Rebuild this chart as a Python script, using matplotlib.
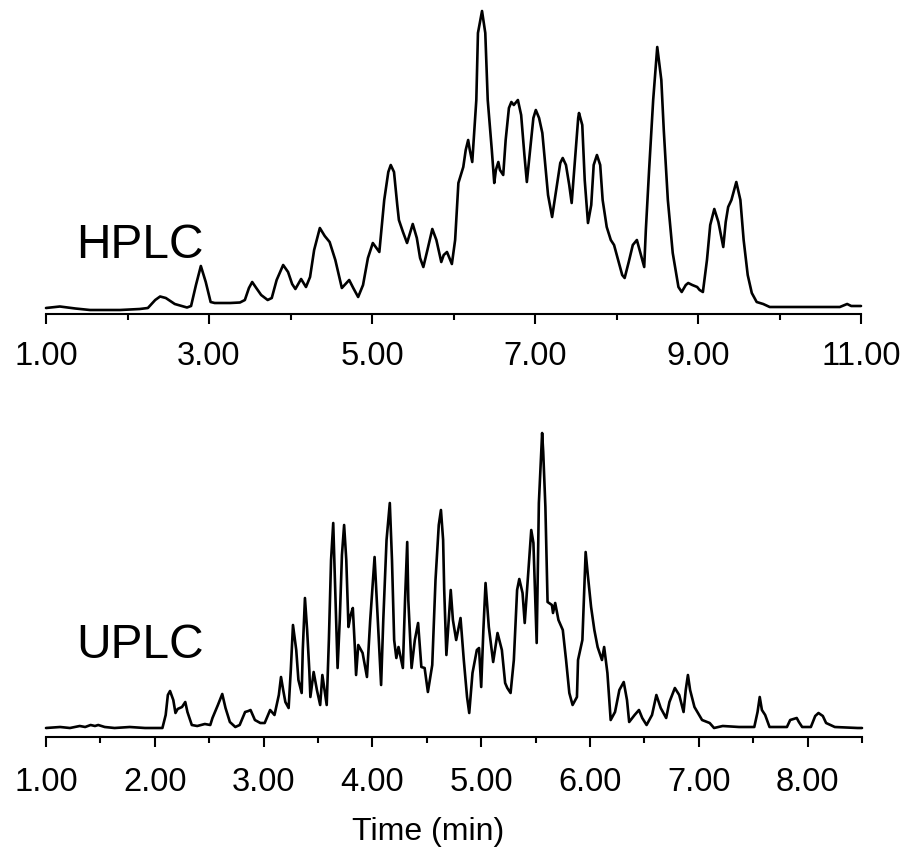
import matplotlib
matplotlib.use("Agg")
import matplotlib.pyplot as plt
from matplotlib.ticker import FixedLocator, FormatStrFormatter

plt.rcParams["font.family"] = ["Liberation Sans", "DejaVu Sans"]

# HPLC trace (time in min, detector response in arbitrary units)
hplc_time = [
    1.00, 1.17, 1.36, 1.54, 1.91, 2.15, 2.25, 2.34, 2.40, 2.47,
    2.58, 2.73, 2.78, 2.84, 2.90, 2.96, 3.02, 3.07, 3.26, 3.38,
    3.44, 3.49, 3.53, 3.58, 3.64, 3.72, 3.77, 3.83, 3.91, 3.97,
    4.02, 4.06, 4.13, 4.19, 4.24, 4.29, 4.36, 4.42, 4.48, 4.55,
    4.63, 4.72, 4.77, 4.83, 4.89, 4.95, 5.01, 5.09, 5.15, 5.20,
    5.23, 5.27, 5.31, 5.33, 5.38, 5.43, 5.47, 5.50, 5.55, 5.59,
    5.63, 5.68, 5.74, 5.79, 5.85, 5.88, 5.92, 5.96, 5.98, 6.02,
    6.06, 6.12, 6.15, 6.18, 6.20, 6.23, 6.28, 6.30, 6.35, 6.39,
    6.42, 6.47, 6.50, 6.52, 6.55, 6.57, 6.61, 6.64, 6.68, 6.71,
    6.74, 6.79, 6.83, 6.87, 6.90, 6.94, 6.98, 7.01, 7.05, 7.09,
    7.12, 7.16, 7.21, 7.26, 7.31, 7.34, 7.38, 7.42, 7.45, 7.49,
    7.53, 7.54, 7.58, 7.61, 7.65, 7.69, 7.72, 7.76, 7.80, 7.83,
    7.88, 7.93, 7.97, 8.02, 8.07, 8.10, 8.15, 8.20, 8.25, 8.30,
    8.34, 8.36, 8.40, 8.45, 8.50, 8.55, 8.58, 8.63, 8.69, 8.76,
    8.80, 8.85, 8.88, 8.93, 8.99, 9.02, 9.06, 9.11, 9.15, 9.20,
    9.25, 9.31, 9.34, 9.37, 9.41, 9.47, 9.52, 9.56, 9.61, 9.66,
    9.72, 9.80, 9.88, 10.13, 10.50, 10.74, 10.80, 10.83, 10.88, 11.00,
]
hplc_signal = [
    6, 7.5, 5.5, 4, 4, 5, 6, 14, 17.5, 16,
    10, 6.5, 8, 29, 48, 32, 12, 11, 11, 11.5,
    14, 26, 32, 26, 19, 14, 16, 34, 49, 42,
    30, 25, 35, 27, 37, 64, 86, 78, 72, 54,
    26, 34, 26, 17, 29, 56, 71, 62, 114, 142,
    149, 142, 109, 94, 82, 71, 82, 90, 76, 56,
    47, 64, 85, 74, 52, 59, 62, 54, 50, 74,
    131, 147, 164, 174, 164, 152, 214, 281, 303, 281,
    214, 164, 131, 144, 152, 144, 139, 174, 206, 212,
    209, 214, 199, 159, 132, 164, 196, 204, 196, 181,
    154, 119, 97, 124, 151, 156, 149, 129, 111, 154,
    196, 201, 189, 134, 91, 109, 149, 159, 149, 114,
    87, 74, 69, 54, 39, 36, 52, 69, 74, 59,
    47, 84, 144, 214, 267, 234, 184, 114, 61, 27,
    22, 29, 31, 29, 27, 24, 22, 54, 89, 105,
    92, 67, 92, 107, 114, 132, 114, 74, 39, 21,
    12, 10, 7, 7, 7, 7, 9, 10, 8, 8,
]

# UPLC trace
uplc_time = [
    1.00, 1.13, 1.22, 1.31, 1.36, 1.41, 1.45, 1.48, 1.54, 1.63,
    1.77, 1.91, 2.07, 2.10, 2.12, 2.14, 2.17, 2.19, 2.21, 2.25,
    2.28, 2.30, 2.34, 2.39, 2.46, 2.51, 2.53, 2.58, 2.62, 2.65,
    2.69, 2.74, 2.78, 2.83, 2.86, 2.88, 2.92, 2.97, 3.01, 3.06,
    3.10, 3.14, 3.16, 3.18, 3.20, 3.23, 3.25, 3.27, 3.30, 3.32,
    3.35, 3.36, 3.38, 3.40, 3.42, 3.43, 3.46, 3.49, 3.52, 3.54,
    3.56, 3.58, 3.60, 3.62, 3.64, 3.65, 3.67, 3.68, 3.70, 3.72,
    3.74, 3.76, 3.78, 3.80, 3.82, 3.84, 3.85, 3.87, 3.91, 3.95,
    3.98, 4.02, 4.05, 4.08, 4.10, 4.13, 4.16, 4.18, 4.20, 4.22,
    4.24, 4.28, 4.30, 4.32, 4.33, 4.36, 4.39, 4.42, 4.45, 4.48,
    4.51, 4.55, 4.58, 4.61, 4.63, 4.65, 4.66, 4.68, 4.72, 4.74,
    4.77, 4.81, 4.84, 4.87, 4.89, 4.92, 4.96, 4.98, 5.00, 5.02,
    5.04, 5.07, 5.11, 5.15, 5.19, 5.22, 5.24, 5.27, 5.30, 5.33,
    5.35, 5.38, 5.40, 5.43, 5.46, 5.48, 5.51, 5.53, 5.56, 5.57,
    5.59, 5.61, 5.65, 5.66, 5.68, 5.71, 5.75, 5.78, 5.81, 5.84,
    5.88, 5.89, 5.93, 5.96, 5.98, 6.01, 6.04, 6.07, 6.11, 6.13,
    6.16, 6.19, 6.23, 6.27, 6.31, 6.34, 6.36, 6.41, 6.45, 6.48,
    6.52, 6.57, 6.61, 6.65, 6.70, 6.73, 6.78, 6.82, 6.86, 6.88,
    6.90, 6.92, 6.96, 7.03, 7.10, 7.14, 7.22, 7.37, 7.51, 7.54,
    7.56, 7.58, 7.61, 7.65, 7.81, 7.84, 7.90, 7.92, 7.95, 8.03,
    8.07, 8.10, 8.14, 8.17, 8.25, 8.46, 8.50,
]
uplc_signal = [
    9, 10, 9, 11, 10, 12, 11, 12, 10, 9,
    10, 9, 9, 22, 42, 46, 37, 24, 28, 30,
    35, 25, 12, 11, 13, 12, 19, 32, 43, 29,
    15, 10, 12, 25, 26, 27, 17, 14, 14, 27,
    22, 42, 60, 47, 35, 29, 67, 112, 87, 57,
    44, 87, 139, 107, 67, 40, 65, 47, 32, 62,
    47, 32, 97, 177, 214, 177, 107, 69, 117, 182,
    212, 177, 110, 122, 129, 87, 62, 92, 84, 60,
    117, 180, 117, 52, 117, 197, 234, 177, 97, 79,
    90, 69, 137, 195, 137, 69, 97, 114, 70, 69,
    45, 72, 157, 212, 227, 197, 147, 82, 147, 117,
    97, 119, 77, 40, 24, 64, 87, 89, 50, 107,
    154, 110, 75, 104, 87, 54, 49, 44, 77, 147,
    158, 144, 114, 160, 207, 194, 94, 234, 304, 285,
    230, 135, 132, 124, 134, 117, 107, 77, 44, 32,
    40, 77, 97, 185, 162, 130, 107, 90, 77, 90,
    64, 17, 25, 47, 55, 37, 15, 22, 27, 19,
    12, 22, 42, 29, 19, 35, 49, 42, 25, 47,
    62, 47, 30, 17, 14, 9, 11, 10, 10, 25,
    40, 27, 22, 10, 10, 17, 19, 15, 10, 10,
    21, 24, 21, 14, 10, 9, 9,
]

hplc_major = [1, 3, 5, 7, 9, 11]
hplc_minor = [2, 4, 6, 8, 10]
uplc_major = [1, 2, 3, 4, 5, 6, 7, 8]
uplc_minor = [1.5, 2.5, 3.5, 4.5, 5.5, 6.5, 7.5, 8.5]


def style_axis(ax, major, minor, pad):
    for side in ["top", "left", "right"]:
        ax.spines[side].set_visible(False)
    ax.spines["bottom"].set_linewidth(1.5)
    ax.set_yticks([])
    ax.xaxis.set_major_locator(FixedLocator(major))
    ax.xaxis.set_minor_locator(FixedLocator(minor))
    ax.xaxis.set_major_formatter(FormatStrFormatter("%.2f"))
    ax.tick_params(axis="x", which="major", direction="out", length=7.5,
                   width=1.5, labelsize=23.5, pad=pad)
    ax.tick_params(axis="x", which="minor", direction="out", length=4,
                   width=1.5)


W, H = 906, 848
fig = plt.figure(figsize=(W / 100, H / 100), dpi=100)

trace_kw = dict(color="black", lw=1.9, clip_on=False,
                solid_joinstyle="round", solid_capstyle="round")

ax1 = fig.add_axes([46 / W, 1 - 314 / H, 815 / W, 309 / H])
ax1.plot(hplc_time, hplc_signal, **trace_kw)
ax1.set_xlim(1, 11)
ax1.set_ylim(0, 309)
style_axis(ax1, hplc_major, hplc_minor, pad=12)

ax2 = fig.add_axes([46 / W, 1 - 737 / H, 816 / W, 310 / H])
ax2.plot(uplc_time, uplc_signal, **trace_kw)
ax2.set_xlim(1, 8.5)
ax2.set_ylim(0, 310)
style_axis(ax2, uplc_major, uplc_minor, pad=14)

fig.text(76 / W, 1 - 258 / H, "HPLC", fontsize=34.5, ha="left", va="baseline")
fig.text(76 / W, 1 - 658 / H, "UPLC", fontsize=34.5, ha="left", va="baseline")
fig.text(428 / W, 1 - 840 / H, "Time (min)", fontsize=23, ha="center",
         va="baseline")

fig.savefig("out.png", dpi=100)
